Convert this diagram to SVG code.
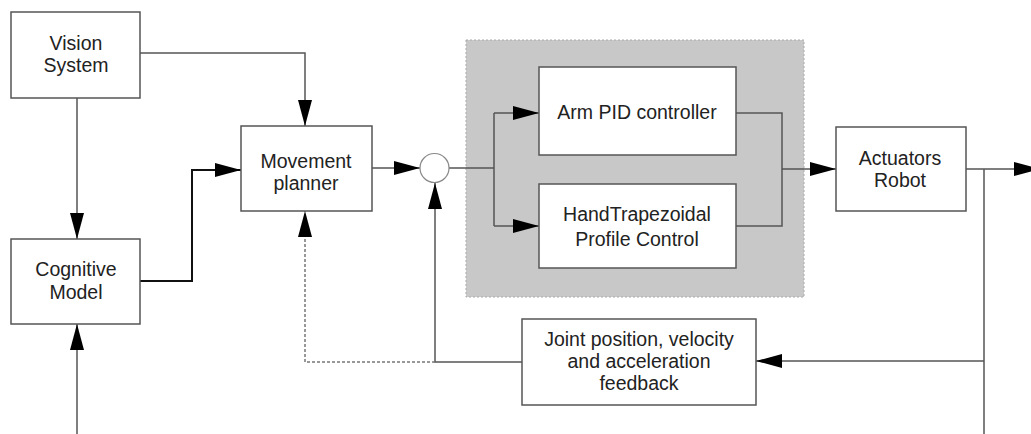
<svg xmlns="http://www.w3.org/2000/svg" width="1031" height="434" viewBox="0 0 1031 434">
  <defs>
    <marker id="arrow" markerUnits="userSpaceOnUse" markerWidth="26" markerHeight="16" refX="26" refY="8" orient="auto">
      <path d="M0,1 L26,8 L0,15 z" fill="#000"/>
    </marker>
    <style>
      .box { fill: #fff; stroke: #555; stroke-width: 1.5; }
      .lbl { font-family: "Liberation Sans", Arial, sans-serif; font-size: 19.5px; fill: #222; text-anchor: middle; }
      .wire { fill: none; stroke: #555; stroke-width: 1.5; }
      .dark { stroke: #111; stroke-width: 2; }
      .dash { stroke-dasharray: 3 2; stroke: #777; }
    </style>
  </defs>
  <rect width="1031" height="434" fill="#fff"/>

  <!-- controller group (shaded) -->
  <g id="controller-group">
    <rect x="466" y="40" width="338" height="257" fill="#c8c8c8" stroke="#aaa" stroke-width="1" stroke-dasharray="2 2"/>
  </g>

  <!-- connectors -->
  <g id="connectors">
    <path class="wire" d="M140,53 H305 V126" marker-end="url(#arrow)"/>
    <path class="wire" d="M77,98 V239" marker-end="url(#arrow)"/>
    <path class="wire dark" d="M140,281 H192 V170 H241" marker-end="url(#arrow)"/>
    <path class="wire" d="M77,434 V324" marker-end="url(#arrow)"/>
    <path class="wire" d="M372,168 H420" marker-end="url(#arrow)"/>
    <path class="wire" d="M449,168 H494"/>
    <path class="wire" d="M494,113 V226"/>
    <path class="wire" d="M494,113 H539" marker-end="url(#arrow)"/>
    <path class="wire" d="M494,226 H539" marker-end="url(#arrow)"/>
    <path class="wire" d="M736,113 H782 V226 H736"/>
    <path class="wire" d="M782,169 H836" marker-end="url(#arrow)"/>
    <path class="wire" d="M966,169 H1040" marker-end="url(#arrow)"/>
    <path class="wire" d="M984,169 V434"/>
    <path class="wire" d="M984,361 H756" marker-end="url(#arrow)"/>
    <path class="wire" d="M522,362 H435 V183" marker-end="url(#arrow)"/>
    <path class="wire dash" d="M435,362 H305 V211" marker-end="url(#arrow)"/>
  </g>

  <g id="vision-system">
    <rect class="box" x="11" y="12" width="129" height="86"/>
    <text class="lbl" x="76" y="50">Vision</text>
    <text class="lbl" x="76" y="72">System</text>
  </g>

  <g id="movement-planner">
    <rect class="box" x="241" y="126" width="131" height="85"/>
    <text class="lbl" x="306" y="168">Movement</text>
    <text class="lbl" x="306" y="190">planner</text>
  </g>

  <g id="cognitive-model">
    <rect class="box" x="11" y="239" width="129" height="85"/>
    <text class="lbl" x="76" y="276">Cognitive</text>
    <text class="lbl" x="76" y="299">Model</text>
  </g>

  <g id="summing-junction">
    <circle cx="434.5" cy="168" r="14.5" fill="#fff" stroke="#888" stroke-width="1.2"/>
  </g>

  <g id="arm-pid">
    <rect class="box" x="539" y="67" width="197" height="88"/>
    <text class="lbl" x="637" y="119">Arm PID controller</text>
  </g>

  <g id="hand-trapezoidal">
    <rect class="box" x="539" y="184" width="197" height="84"/>
    <text class="lbl" x="637" y="221">HandTrapezoidal</text>
    <text class="lbl" x="637" y="246">Profile Control</text>
  </g>

  <g id="actuators-robot">
    <rect class="box" x="836" y="127" width="130" height="84"/>
    <text class="lbl" x="900" y="165">Actuators</text>
    <text class="lbl" x="900" y="187">Robot</text>
  </g>

  <g id="joint-feedback">
    <rect class="box" x="522" y="319" width="234" height="86"/>
    <text class="lbl" x="639" y="346">Joint position, velocity</text>
    <text class="lbl" x="639" y="368">and acceleration</text>
    <text class="lbl" x="639" y="390">feedback</text>
  </g>
</svg>
